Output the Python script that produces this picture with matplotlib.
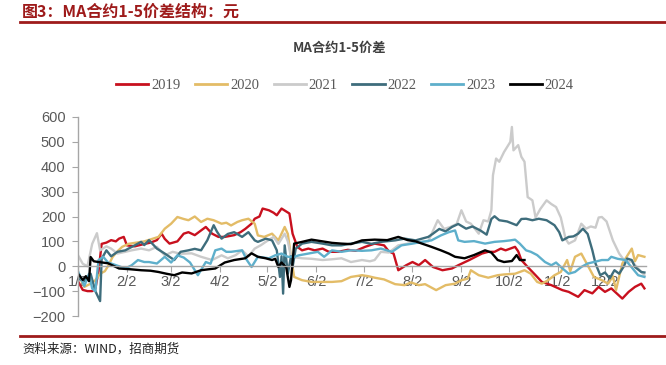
import matplotlib
matplotlib.use("Agg")
import matplotlib.pyplot as plt
from matplotlib.lines import Line2D

plt.rcParams['font.family'] = ['Liberation Sans', 'Noto Sans CJK SC', 'DejaVu Sans']

# ---- data (x = days since Jan 2) ----
d2019 = [0,3,6,9,11,13,15,18,21,24,26,29,31,36,41,46,50,53,55,58,63,67,70,74,78,81,85,89,93,99,103,106,110,112,115,117,121,124,126,129,132,134,136,139,142,146,150,155,159,165,171,176,182,188,194,197,200,203,208,212,216,220,225,231,237,241,248,252,256,260,264,268,271,277,279,281,285,290,294,300,307,311,317,321,326,330,334,338,345,349,353,357,359]
v2019 = [-60,-95,-100,-100,-90,-20,90,95,105,100,111,118,84,80,88,95,105,131,110,91,100,131,137,125,144,158,131,118,118,125,137,150,171,191,200,232,225,215,205,232,220,212,131,78,64,71,64,71,58,58,66,62,78,91,84,60,51,-16,4,17,4,25,-3,-16,-9,4,25,38,51,58,58,71,64,78,60,25,-3,-36,-63,-76,-96,-103,-123,-96,-109,-83,-103,-89,-130,-103,-83,-70,-89]

d2020 = [0,4,8,11,14,17,19,22,25,28,32,37,42,47,51,55,59,63,67,70,74,78,82,86,91,94,97,101,104,108,112,114,118,123,127,131,133,135,137,142,148,155,161,167,173,180,184,188,194,201,207,211,216,220,227,233,239,243,247,249,254,260,266,270,277,283,287,291,294,298,302,306,310,312,315,319,323,327,332,336,339,341,345,349,351,353,355,359]
v2020 = [-30,-83,-70,-56,-30,-20,0,38,60,78,90,95,100,110,118,151,171,198,190,185,200,178,191,185,171,175,164,178,185,191,171,124,118,131,104,158,130,38,-43,-56,-63,-63,-63,-60,-43,-36,-40,-46,-53,-72,-76,-65,-76,-72,-96,-76,-70,-56,-50,-16,-36,-46,-36,-33,-30,-16,-30,-63,-70,-56,-36,-23,25,-20,38,51,4,-43,-56,-70,-40,-96,11,51,71,20,45,38]

d2021 = [0,3,6,9,12,14,18,21,25,30,34,40,45,50,55,60,65,72,78,85,91,95,100,104,108,112,116,119,124,127,131,133,135,142,148,155,161,167,173,180,185,188,192,197,203,209,216,222,228,232,236,240,243,246,249,254,257,260,262,263,265,267,270,274,275,276,279,281,283,285,288,290,293,297,300,303,306,309,311,315,319,322,325,328,330,332,335,339,343,347,351,355,359]
v2021 = [44,10,0,90,133,64,80,71,51,58,64,71,64,78,44,58,50,52,38,25,44,32,45,64,40,71,85,98,118,90,131,100,38,32,30,25,28,32,17,25,20,25,58,55,84,91,98,100,185,150,158,170,225,180,171,131,185,180,225,366,433,420,459,500,560,466,487,440,420,278,265,196,230,265,250,238,196,111,91,104,171,151,160,155,196,198,180,104,51,17,20,-9,-36]

d2022 = [0,4,8,11,14,15,18,21,25,30,32,36,40,42,45,50,55,61,65,70,74,78,82,86,88,91,95,99,104,108,112,114,119,123,126,128,129,130,131,133,135,136,138,142,148,155,161,167,173,180,186,192,201,207,214,222,225,229,233,237,241,246,250,255,259,262,264,267,272,278,281,284,288,292,297,302,305,307,311,314,317,320,323,326,328,331,334,337,340,343,346,348,351,353,357,359]
v2022 = [-50,-60,-30,-100,-140,30,64,40,58,64,71,84,98,85,105,71,51,25,58,64,70,64,105,165,140,111,130,137,118,137,104,98,111,104,64,-43,40,-110,84,-30,40,-3,71,91,98,91,84,84,91,98,90,98,104,111,104,118,131,150,140,158,170,151,160,144,127,190,201,185,180,165,190,191,185,191,185,165,137,104,118,120,131,151,130,64,11,-36,-25,-49,-16,-30,0,31,25,-3,-23,-25]

d2023 = [0,4,7,9,11,13,16,19,21,26,30,34,38,42,45,50,55,59,63,67,71,76,81,84,87,91,94,97,104,107,110,114,121,125,129,133,137,140,146,152,156,161,167,173,180,186,192,199,205,212,218,224,230,235,239,241,245,251,258,264,270,274,277,280,284,287,291,296,300,303,306,311,315,319,323,327,332,336,338,342,347,351,355,359]
v2023 = [-20,-80,-30,-90,-100,25,38,15,11,0,-9,4,25,17,17,11,38,15,44,35,15,-36,17,10,64,71,58,58,64,25,-3,38,32,44,51,38,38,44,51,58,38,64,58,64,62,64,71,58,84,91,98,104,124,137,144,104,98,101,91,98,101,104,107,91,64,58,45,17,4,15,-3,-30,-23,-3,11,17,25,25,38,30,25,-5,-36,-43]

d2024 = [0,3,5,7,8,10,13,19,26,33,40,46,51,56,61,66,72,78,83,87,93,99,106,110,114,119,123,125,127,129,132,134,135,137,142,148,155,161,167,173,180,188,196,203,209,214,218,224,230,235,239,245,251,258,262,266,270,275,278,280,283]
v2024 = [-30,-55,-40,-60,37,20,17,12,-9,-12,-16,-18,-23,-30,-36,-25,-29,-16,-12,-9,15,25,32,52,38,32,25,30,-3,15,-5,-83,-56,91,98,107,100,94,91,89,104,107,105,118,105,100,91,78,64,51,38,32,45,64,55,25,17,21,45,25,25]

years = ['2019', '2020', '2021', '2022', '2023', '2024']
colors = ['#C8101E', '#E3BC67', '#CBCBCB', '#3E6D7C', '#5EAFCB', '#000000']
tick_days = [0, 31, 59, 90, 120, 151, 181, 212, 243, 273, 304, 334]
tick_labels = ['1/2', '2/2', '3/2', '4/2', '5/2', '6/2', '7/2', '8/2', '9/2', '10/2', '11/2', '12/2']
yticks = [-200, -100, 0, 100, 200, 300, 400, 500, 600]

series = [(d2019, v2019), (d2020, v2020), (d2021, v2021),
          (d2022, v2022), (d2023, v2023), (d2024, v2024)]

W, H = 666, 365
fig = plt.figure(figsize=(W / 100, H / 100), dpi=100)
ax = fig.add_axes([78 / W, 1 - 316 / H, 568 / W, 199 / H])

handles = []
for (d, v), yr, c in zip(series, years, colors):
    ax.plot(d, v, color=c, lw=1.7, solid_joinstyle='round')
    handles.append(Line2D([], [], color=c, lw=2.0))

ax.set_xlim(0, 360)
ax.set_ylim(-200, 600)
ax.set_yticks(yticks)
ax.set_xticks(tick_days)
ax.set_xticklabels(tick_labels)

gray = '#A6A6A6'
for s in ['top', 'right']:
    ax.spines[s].set_visible(False)
ax.spines['left'].set_color(gray)
ax.spines['left'].set_linewidth(1.0)
ax.spines['bottom'].set_position(('data', 0))
ax.spines['bottom'].set_color(gray)
ax.spines['bottom'].set_linewidth(1.0)
ax.tick_params(axis='y', colors=gray, labelcolor='#595959', labelsize=10.5,
               length=4, direction='out', pad=5)
ax.tick_params(axis='x', colors=gray, labelcolor='#595959', labelsize=10.5,
               length=4, direction='out', pad=2)

# title
fig.text(339 / W, 1 - 48 / H, 'MA合约1-5价差', ha='center', va='center',
         fontsize=9.5, fontweight='bold', color='#404040',
         family=['Noto Sans CJK SC', 'DejaVu Sans'])

# legend
leg = fig.legend(handles, years, loc='center', bbox_to_anchor=(345 / W, 1 - 85 / H),
                 ncol=6, frameon=False, handlelength=2.2, handletextpad=0.2,
                 columnspacing=1.0,
                 prop={'family': 'Liberation Serif', 'size': 10.5})
for t in leg.get_texts():
    t.set_color('#595959')

# header and footer
red = '#9E1B1B'
fig.text(22 / W, 1 - 12 / H, '图3：MA合约1-5价差结构：元', ha='left', va='center',
         fontsize=11.5, fontweight='bold', color=red,
         family=['Noto Sans CJK SC', 'DejaVu Sans'])
fig.add_artist(Line2D([20 / W, 1.0], [1 - 22 / H, 1 - 22 / H], color=red, lw=2.0))
fig.add_artist(Line2D([20 / W, 1.0], [1 - 336 / H, 1 - 336 / H], color=red, lw=2.0))
fig.text(22 / W, 1 - 349 / H, '资料来源：WIND，招商期货', ha='left', va='center',
         fontsize=9, color='#222222', family=['Noto Sans CJK SC', 'DejaVu Sans'])

fig.savefig('out.png', dpi=100)
